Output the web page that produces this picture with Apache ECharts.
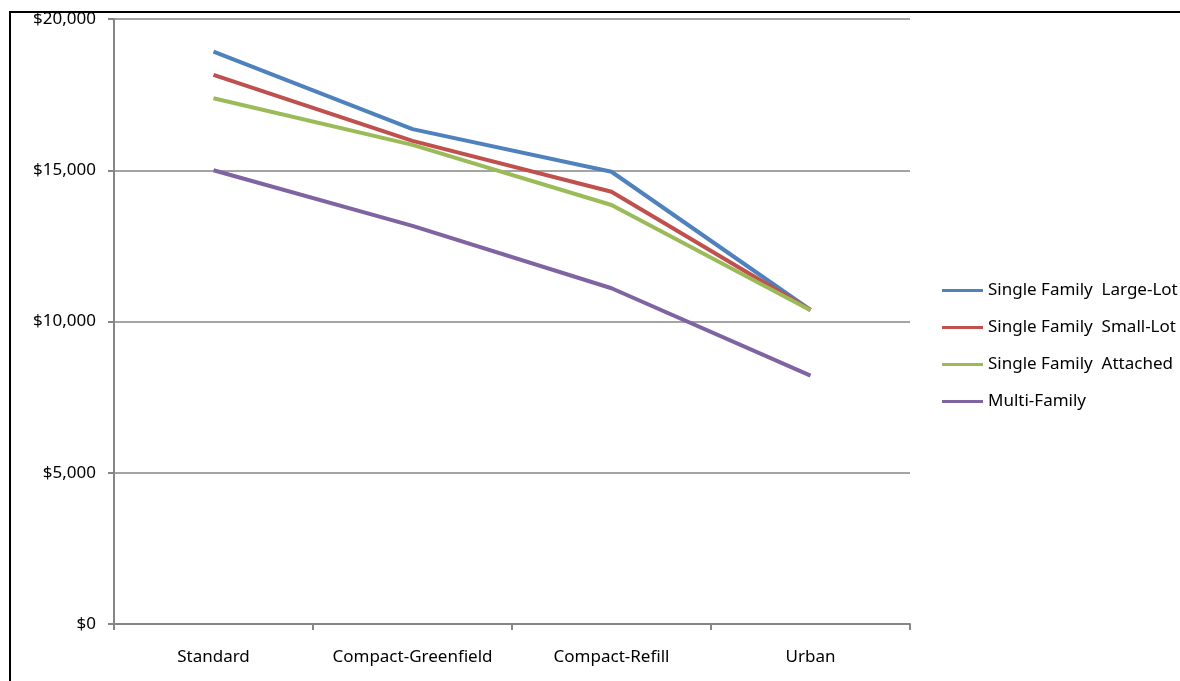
<!DOCTYPE html>
<html><head><meta charset="utf-8">
<script src="https://cdn.jsdelivr.net/npm/echarts@6/dist/echarts.min.js"></script>
<style>html,body{margin:0;padding:0;background:#fff}#c{width:1180px;height:681px}</style>
</head><body><div id="c"></div>
<script>
const categories = ['Standard', 'Compact-Greenfield', 'Compact-Refill', 'Urban'];
const seriesNames = ['Single Family  Large-Lot', 'Single Family  Small-Lot', 'Single Family  Attached', 'Multi-Family'];
const largeLot = [18920, 16360, 14950, 10380];
const smallLot = [18150, 15970, 14290, 10380];
const attached = [17380, 15840, 13850, 10370];
const multiFamily = [15000, 13160, 11100, 8210];
const colors = ['#4F81BD', '#C0504D', '#9BBB59', '#8064A2'];
const FONT = '"Noto Sans", "Open Sans", sans-serif';

const chart = echarts.init(document.getElementById('c'));
const data = [largeLot, smallLot, attached, multiFamily];
chart.setOption({
  animation: false,
  backgroundColor: '#fff',
  graphic: [{
    type: 'rect', shape: {x: 10, y: 12, width: 1200, height: 700},
    style: {fill: 'none', stroke: '#000', lineWidth: 2}, silent: true
  }],
  grid: {left: 114, right: 270, top: 19, bottom: 57, containLabel: false},
  legend: {
    orient: 'vertical', left: 942, top: 279, padding: 0,
    itemWidth: 41, itemHeight: 3, itemGap: 14,
    textStyle: {fontFamily: FONT, fontSize: 17, color: '#000', lineHeight: 23},
    data: seriesNames.map(n => ({name: n, icon: 'rect'}))
  },
  xAxis: {
    type: 'category', data: categories, boundaryGap: true,
    axisLine: {lineStyle: {color: '#868686', width: 2}},
    axisTick: {show: true, interval: 0, inside: false, length: 6, lineStyle: {color: '#868686', width: 2}},
    axisLabel: {interval: 0, fontFamily: FONT, fontSize: 17, color: '#000', margin: 25}
  },
  yAxis: {
    type: 'value', min: 0, max: 20000, interval: 5000,
    axisLine: {show: true, lineStyle: {color: '#868686', width: 2}},
    axisTick: {show: true, length: 6, lineStyle: {color: '#868686', width: 2}},
    splitLine: {lineStyle: {color: '#868686', width: 1.5}},
    axisLabel: {fontFamily: FONT, fontSize: 17, color: '#000', margin: 18,
      formatter: v => '$' + v.toLocaleString('en-US')}
  },
  series: seriesNames.map((n, i) => ({
    name: n, type: 'line', data: data[i], symbol: 'none',
    itemStyle: {color: colors[i]},
    lineStyle: {color: colors[i], width: 4}
  }))
});
</script></body></html>
